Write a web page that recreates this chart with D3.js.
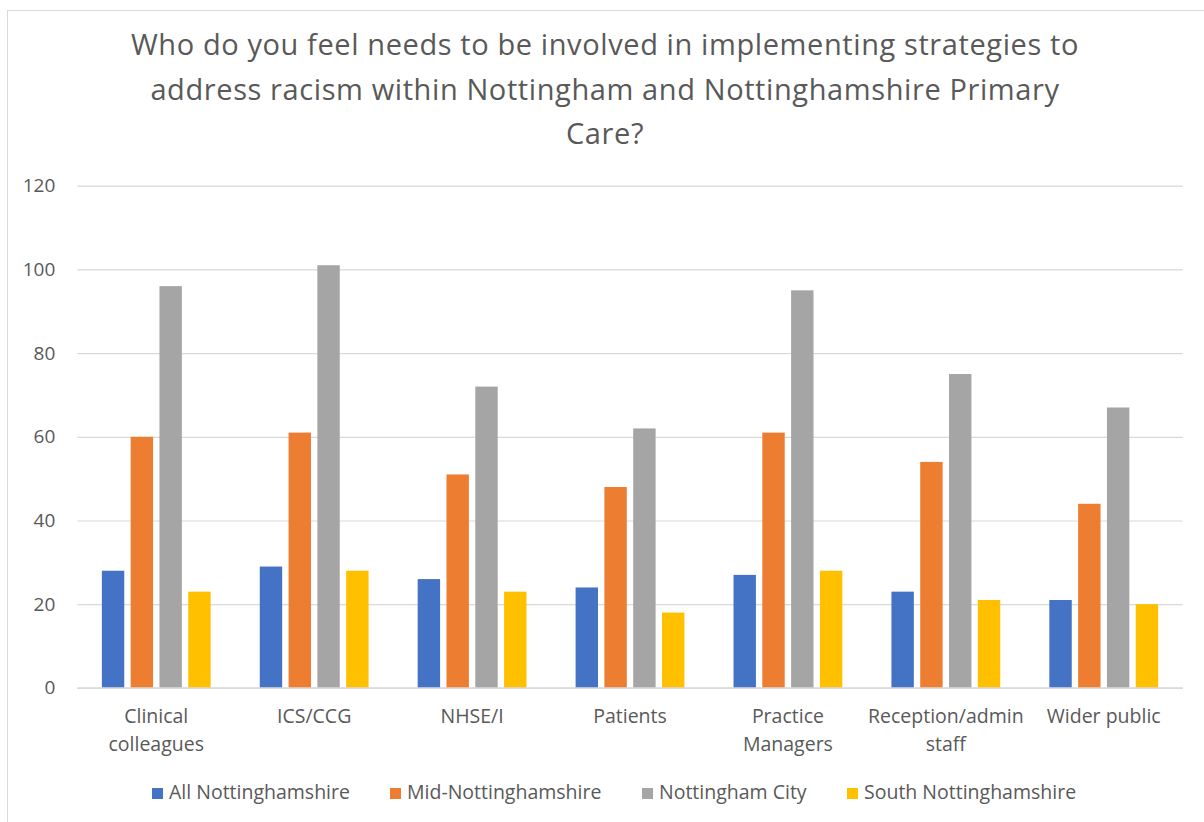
<!DOCTYPE html>
<html>
<head>
<meta charset="utf-8">
<script src="https://cdn.jsdelivr.net/npm/d3@7"></script>
<style>
  html, body { margin: 0; padding: 0; background: #fff; }
  svg { display: block; }
  text { font-family: "Open Sans", sans-serif; fill: #595959; }
</style>
</head>
<body>
<script>
// Survey responses: who should be involved in anti-racism strategies
const categories = ["Clinical colleagues", "ICS/CCG", "NHSE/I", "Patients", "Practice Managers", "Reception/admin staff", "Wider public"];
const categoryLines = [["Clinical", "colleagues"], ["ICS/CCG"], ["NHSE/I"], ["Patients"], ["Practice", "Managers"], ["Reception/admin", "staff"], ["Wider public"]];
const seriesNames = ["All Nottinghamshire", "Mid-Nottinghamshire", "Nottingham City", "South Nottinghamshire"];
const allNotts   = [28, 29, 26, 24, 27, 23, 21];
const midNotts   = [60, 61, 51, 48, 61, 54, 44];
const nottsCity  = [96, 101, 72, 62, 95, 75, 67];
const southNotts = [23, 28, 23, 18, 28, 21, 20];
const yTicks = [0, 20, 40, 60, 80, 100, 120];
const titleLines = [
  "Who do you feel needs to be involved in implementing strategies to",
  "address racism within Nottingham and Nottinghamshire Primary",
  "Care?"
];
const colors = ["#4472c4", "#ed7d31", "#a5a5a5", "#ffc000"];

const seriesValues = [allNotts, midNotts, nottsCity, southNotts];
const rows = categories.map((c, i) => ({
  category: c,
  values: seriesNames.map((s, k) => ({ series: s, value: seriesValues[k][i] }))
}));

const W = 1204, H = 822;
const svg = d3.select("body").append("svg").attr("width", W).attr("height", H);

// chart frame
svg.append("rect")
  .attr("x", 7.5).attr("y", 10.5).attr("width", W + 20).attr("height", H + 20)
  .attr("fill", "#fff").attr("stroke", "#d9d9d9").attr("stroke-width", 1);

const plot = { left: 77.3, right: 1182.7, top: 185.7, bottom: 687.9 };

const x0 = d3.scaleBand().domain(categories).range([plot.left, plot.right]).padding(0);
const bw = x0.bandwidth();
const groupW = bw * 0.689;
const x1 = d3.scaleBand().domain(seriesNames)
  .range([(bw - groupW) / 2, (bw + groupW) / 2])
  .paddingInner(0.222).paddingOuter(0);
const y = d3.scaleLinear().domain([0, 120]).range([plot.bottom, plot.top]);

// title
svg.append("g").selectAll("text").data(titleLines).join("text")
  .attr("x", 605).attr("y", (d, i) => 55 + i * 44.5)
  .attr("text-anchor", "middle")
  .style("font-size", "29px")
  .style("letter-spacing", "0.6px")
  .text(d => d);

// gridlines + y tick labels
const yAxis = d3.axisLeft(y).tickValues(yTicks).tickSize(-(plot.right - plot.left)).tickPadding(22);
const gy = svg.append("g").attr("transform", `translate(${plot.left},0)`).call(yAxis);
gy.select(".domain").remove();
gy.selectAll(".tick line").attr("stroke", "#d9d9d9").attr("stroke-width", 1.2);
gy.selectAll(".tick text").style("font-size", "19px").attr("fill", "#595959")
  .style("font-family", null);

// bars
const groups = svg.append("g").selectAll("g").data(rows).join("g")
  .attr("transform", d => `translate(${x0(d.category)},0)`);
groups.selectAll("rect").data(d => d.values).join("rect")
  .attr("x", d => x1(d.series))
  .attr("width", x1.bandwidth())
  .attr("y", d => y(d.value))
  .attr("height", d => y(0) - y(d.value))
  .attr("fill", (d, k) => colors[k]);

// baseline
svg.append("line")
  .attr("x1", plot.left).attr("x2", plot.right)
  .attr("y1", y(0)).attr("y2", y(0))
  .attr("stroke", "#d9d9d9").attr("stroke-width", 1.5);

// category labels
const xAxis = svg.append("g");
categories.forEach((c, i) => {
  const t = xAxis.append("text")
    .attr("x", x0(c) + bw / 2).attr("y", 723)
    .attr("text-anchor", "middle")
    .style("font-size", "19.5px");
  t.selectAll("tspan").data(categoryLines[i]).join("tspan")
    .attr("x", x0(c) + bw / 2)
    .attr("dy", (d, j) => j === 0 ? 0 : 28)
    .text(d => d);
});

// legend
const legendX = [152, 390, 642, 847];
const legend = svg.append("g").selectAll("g").data(seriesNames).join("g")
  .attr("transform", (d, i) => `translate(${legendX[i]},788)`);
legend.append("rect").attr("width", 11).attr("height", 11).attr("fill", (d, i) => colors[i]);
legend.append("text").attr("x", 17).attr("y", 11).style("font-size", "19.5px").text(d => d);
</script>
</body>
</html>
